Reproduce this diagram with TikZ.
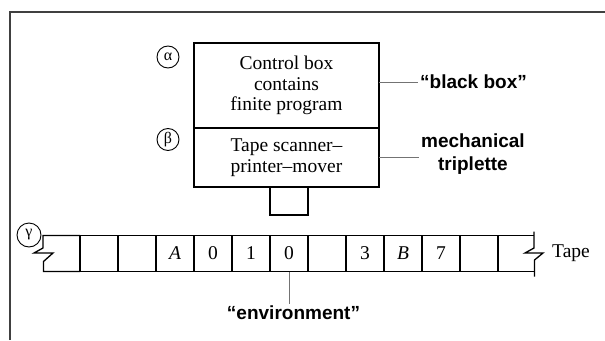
\documentclass[tikz,border=0pt]{standalone}
\usepackage{fontspec}
\setmainfont{Liberation Serif}
\newfontfamily\labelfont{Liberation Sans}
\usetikzlibrary{positioning}

\begin{document}
\begin{tikzpicture}[
    x=1pt, y=-1pt,
    node distance=0pt,
    box/.style={rectangle, draw, line width=1.3pt, outer sep=0pt, inner sep=0pt, minimum width=185pt, align=center, font=\fontsize{19.5}{20.5}\selectfont},
    cell/.style={rectangle, draw, line width=1.3pt, outer sep=0pt, inner sep=0pt, minimum width=38pt, minimum height=36pt, font=\fontsize{19.5}{20}\selectfont},
    tag/.style={circle, draw, line width=0.9pt, minimum size=22pt, inner sep=0pt, font=\fontsize{16}{16}\selectfont},
    note/.style={font=\labelfont\bfseries\fontsize{19}{23}\selectfont, align=center, inner sep=2pt},
    line/.style={draw, black!55, line width=0.9pt}
]
\useasboundingbox (0,0) rectangle (605,340);
\draw[line width=1.2pt, black!75] (10,340) -- (10,12) -- (605,12);

% machine
\node [box, minimum height=85pt] (ctrl) at (286.5,85.5) {Control box\\contains\\finite program};
\node [box, minimum height=59pt, below=of ctrl] (scanner) {Tape scanner–\\printer–mover};

% tape
\foreach \s [count=\i] in {{},{},\textit{A},0,1,0,{},3,\textit{B},7,{}}
  \node [cell] (c\i) at (61+38*\i,253.5) {\s};
\draw [line width=1.3pt] (c1.north west) -- (43,235.5) -- (43,248) -- (34,253) -- (53,253)
  -- (43.5,261.5) -- (43.5,271.5) -- (c1.south west);
\draw [line width=1.3pt] (c11.north east) -- (534,235.5);
\draw [line width=1.3pt] (c11.south east) -- (534.5,271.5);
\draw [line width=1.3pt] (534,231.5) -- (534,248) -- (525,253) -- (543,253) -- (534.5,260) -- (534.5,276.5);
\node [font=\fontsize{19.5}{20}\selectfont] (tape) at (571,253) {Tape};

\node [box, minimum width=38pt, minimum height=28pt, anchor=north] (head) at (c6.center |- scanner.south) {};

% tags
\node [tag] (alpha) at (168,57) {α};
\node [tag] (beta) at (168,139.5) {β};
\node [tag, minimum size=24pt] (gamma) at (29,235) {γ};

% labels
\node [note, anchor=west] (blackbox) at (418,82) {“black box”};
\node [note, anchor=west] (mech) at (419,154) {mechanical\\triplette};
\node [note] (env) at (293.5,313) {“environment”};

\path [line] (ctrl.east |- blackbox.west) -- (blackbox.west);
\path [line] (scanner.east) -- (scanner.east -| mech.west);
\path [line] (c6.south) -- (c6.south |- env.north);
\end{tikzpicture}
\end{document}
